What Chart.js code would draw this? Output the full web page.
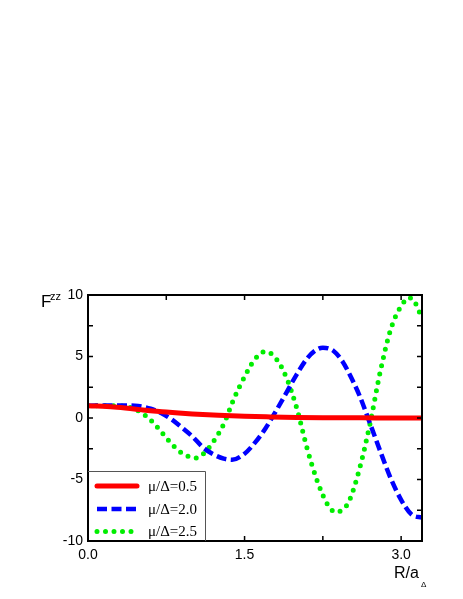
<!DOCTYPE html>
<html>
<head>
<meta charset="utf-8">
<script src="https://cdn.jsdelivr.net/npm/chart.js@4/dist/chart.umd.min.js"></script>
<style>
  body { margin: 0; background: #fff; }
  canvas { display: block; }
</style>
</head>
<body>
<canvas id="fzz-chart" width="463" height="599"></canvas>
<script>
// values (R/a_Delta, F^zz)
const redX = [0, 0.25, 0.5, 0.75, 1.0, 1.25, 1.5, 1.75, 2.0, 2.25, 2.5, 2.75, 3.0, 3.2];
const redY = [1, 0.9, 0.68, 0.48, 0.33, 0.22, 0.14, 0.09, 0.05, 0.03, 0.02, 0.01, 0, 0];

const blueX = [0, 0.3, 0.45, 0.6, 0.7, 0.8, 0.9, 1.0, 1.1, 1.2, 1.3, 1.38, 1.5, 1.6, 1.7, 1.8, 1.9, 2.0, 2.1, 2.18, 2.25, 2.35, 2.44, 2.5, 2.6, 2.7, 2.8, 2.9, 3.0, 3.1, 3.2];
const blueY = [1, 1.02, 1.0, 0.75, 0.4, -0.1, -0.78, -1.5, -2.38, -2.95, -3.3, -3.4, -2.9, -2.0, -0.85, 0.55, 2.05, 3.55, 4.85, 5.5, 5.72, 5.47, 4.58, 3.65, 1.85, -0.4, -2.7, -4.9, -6.65, -7.85, -8.1];

const greenX = [0, 0.25, 0.4, 0.5, 0.6, 0.7, 0.8, 0.9, 1.03, 1.1, 1.2, 1.3, 1.4, 1.5, 1.6, 1.7, 1.8, 1.9, 2.0, 2.1, 2.2, 2.3, 2.38, 2.45, 2.5, 2.6, 2.7, 2.8, 2.9, 3.0, 3.08, 3.15, 3.2];
const greenY = [1, 1.0, 0.87, 0.5, -0.16, -1.1, -2.1, -2.85, -3.25, -2.95, -1.93, -0.5, 1.6, 3.35, 4.8, 5.4, 4.85, 3.3, 0.8, -2.5, -5.2, -7.1, -7.67, -7.35, -6.8, -4.17, -0.55, 3.76, 7.2, 9.1, 9.78, 9.13, 8.0];

const seriesLabels = ["\u03bc/\u0394=0.5", "\u03bc/\u0394=2.0", "\u03bc/\u0394=2.5"];
const xTicks = [0, 1.5, 3.0];
const xMinorTicks = [0.75, 2.25];
const yTicks = [-10, -5, 0, 5, 10];
const yMinorTicks = [-7.5, -2.5, 2.5, 7.5];

const pts = (xs, ys) => xs.map((x, i) => ({x: x, y: ys[i]}));

const framePlugin = {
  id: 'frame',
  afterDraw(chart) {
    const ctx = chart.ctx;
    const a = chart.chartArea;
    const xs = chart.scales.x, ys = chart.scales.y;
    ctx.save();
    ctx.strokeStyle = '#000';
    ctx.lineWidth = 2;
    ctx.strokeRect(a.left, a.top, a.right - a.left, a.bottom - a.top);
    ctx.lineWidth = 1.5;
    ctx.beginPath();
    xTicks.concat(xMinorTicks).forEach(v => {
      const px = xs.getPixelForValue(v);
      ctx.moveTo(px, a.bottom); ctx.lineTo(px, a.bottom - 5);
      ctx.moveTo(px, a.top); ctx.lineTo(px, a.top + 5);
    });
    yTicks.concat(yMinorTicks).forEach(v => {
      const py = ys.getPixelForValue(v);
      ctx.moveTo(a.left, py); ctx.lineTo(a.left + 5, py);
      ctx.moveTo(a.right, py); ctx.lineTo(a.right - 5, py);
    });
    ctx.stroke();

    // legend box in lower left corner
    ctx.fillStyle = '#fff';
    ctx.fillRect(a.left + 1, 471, 117, a.bottom - 472);
    ctx.strokeStyle = '#555';
    ctx.lineWidth = 1;
    ctx.beginPath();
    ctx.moveTo(a.left, 471.5); ctx.lineTo(205.5, 471.5); ctx.lineTo(205.5, a.bottom);
    ctx.stroke();
    const rows = [486, 509, 531.5];
    chart.data.datasets.forEach((ds, i) => {
      ctx.save();
      ctx.strokeStyle = ds.borderColor;
      ctx.lineWidth = ds.borderWidth;
      ctx.lineCap = ds.borderCapStyle || 'butt';
      ctx.setLineDash(ds.borderDash || []);
      ctx.beginPath();
      ctx.moveTo(97, rows[i]);
      ctx.lineTo(i === 0 ? 137 : 136, rows[i]);
      ctx.stroke();
      ctx.restore();
      ctx.fillStyle = '#000';
      ctx.font = '15px "Liberation Serif", "Times New Roman", serif';
      ctx.textBaseline = 'middle';
      ctx.textAlign = 'left';
      ctx.fillText(ds.label, 148, rows[i] + 1);
    });

    // axis titles
    ctx.fillStyle = '#000';
    ctx.textBaseline = 'alphabetic';
    ctx.font = '17px "Liberation Sans", Arial, sans-serif';
    ctx.fillText('F', 41, 306.5);
    ctx.font = '11px "Liberation Sans", Arial, sans-serif';
    ctx.fillText('zz', 50, 299.5);
    ctx.font = '16px "Liberation Sans", Arial, sans-serif';
    ctx.fillText('R/a', 394, 578);
    ctx.font = '8px "Liberation Sans", Arial, sans-serif';
    ctx.fillText('\u0394', 421, 587);
    ctx.restore();
  }
};

new Chart(document.getElementById("fzz-chart"), {
  type: 'line',
  data: {
    datasets: [
      {
        label: seriesLabels[0],
        data: pts(redX, redY),
        borderColor: "#ff0000",
        borderWidth: 5,
        borderCapStyle: 'round',
        cubicInterpolationMode: 'monotone',
        pointRadius: 0
      }, {
        label: seriesLabels[1],
        data: pts(blueX, blueY),
        borderColor: "#0000ff",
        borderWidth: 4.5,
        borderDash: [10, 4.5],
        cubicInterpolationMode: 'monotone',
        pointRadius: 0
      }, {
        label: seriesLabels[2],
        data: pts(greenX, greenY),
        borderColor: "#00ee00",
        borderWidth: 5,
        borderDash: [0, 8.5],
        borderCapStyle: 'round',
        cubicInterpolationMode: 'monotone',
        pointRadius: 0
      }
    ]
  },
  options: {
    responsive: false,
    devicePixelRatio: 1,
    animation: false,
    layout: { padding: { left: 40, right: 41, top: 295, bottom: 28 } },
    plugins: { legend: { display: false }, tooltip: { enabled: false } },
    scales: {
      x: {
        type: 'linear',
        min: 0,
        max: 3.2,
        afterBuildTicks: s => { s.ticks = xTicks.map(v => ({value: v})); },
        afterFit: s => { s.height = 30; },
        grid: { display: false, drawTicks: false },
        border: { display: false },
        ticks: {
          padding: 6,
          color: '#000',
          font: { family: '"Liberation Sans", Arial, sans-serif', size: 14 },
          callback: v => v.toFixed(1)
        }
      },
      y: {
        min: -10,
        max: 10,
        afterBuildTicks: s => { s.ticks = yTicks.map(v => ({value: v})); },
        afterFit: s => { s.width = 48; },
        grid: { display: false, drawTicks: false },
        border: { display: false },
        ticks: {
          padding: 5,
          color: '#000',
          font: { family: '"Liberation Sans", Arial, sans-serif', size: 14 }
        }
      }
    }
  },
  plugins: [framePlugin]
});
</script>
</body>
</html>
